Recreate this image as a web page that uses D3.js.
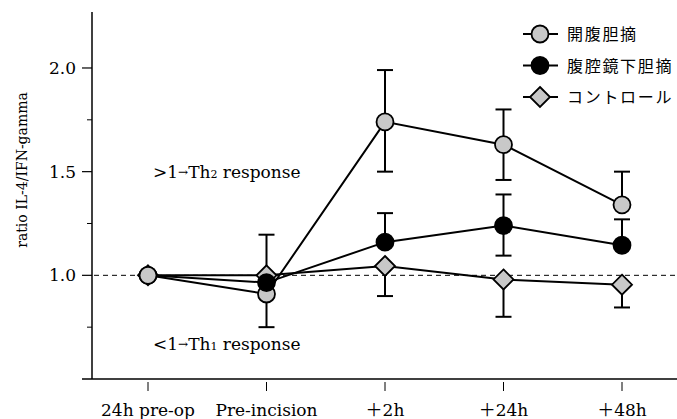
<!DOCTYPE html>
<html>
<head>
<meta charset="utf-8">
<script src="https://cdn.jsdelivr.net/npm/d3@7"></script>
<style>
    body { margin: 0; background: #fff; }
    svg { display: block; }
    text { font-family: "DejaVu Serif", "Noto Sans CJK JP", serif; fill: #000; }
    .jp { font-family: "Noto Sans CJK JP", sans-serif; }
</style>
</head>
<body>
<svg id="chart" width="677" height="419"></svg>
<script>
/* IL-4/IFN-gamma ratio line chart with error bars */

const CATEGORIES = ['24h pre-op', 'Pre-incision', '＋2h', '＋24h', '＋48h'];

const SERIES_NAMES = ['開腹胆摘', '腹腔鏡下胆摘', 'コントロール'];

// 開腹胆摘 (open cholecystectomy)
const OPEN_VALUES = [1.0, 0.91, 1.74, 1.63, 1.34];
const OPEN_ERR = [null, [0.75, 0.91], [1.50, 1.99], [1.46, 1.80], [1.34, 1.50]];

// 腹腔鏡下胆摘 (laparoscopic)
const LAP_VALUES = [1.0, 0.965, 1.16, 1.24, 1.145];
const LAP_ERR = [null, null, [1.16, 1.30], [1.095, 1.39], [1.145, 1.27]];

// コントロール
const CTRL_VALUES = [1.0, 1.0, 1.045, 0.98, 0.955];
const CTRL_ERR = [null, [1.0, 1.196], [0.90, 1.045], [0.80, 0.98], [0.845, 0.955]];

const Y_TICKS = [2.0, 1.5, 1.0];
const Y_MINOR = [1.75, 1.25, 0.75];

const GRAY = '#c8c8c8';

const svg = d3.select('#chart');

const x = d3.scalePoint().domain(CATEGORIES).range([148, 622]);
const y = d3.scaleLinear().domain([0.5, 2.27]).range([379, 12]);

const axisX = 92;
const axisY = y(0.5);

// Axes lines
svg.append('line')
    .attr('x1', axisX).attr('x2', axisX)
    .attr('y1', y(2.27)).attr('y2', axisY)
    .attr('stroke', '#000').attr('stroke-width', 1.5);
svg.append('line')
    .attr('x1', 82).attr('x2', 677)
    .attr('y1', axisY).attr('y2', axisY)
    .attr('stroke', '#000').attr('stroke-width', 1.5);

// Y ticks
svg.selectAll('.ytick').data(Y_TICKS).join('line')
    .attr('x1', axisX - 10).attr('x2', axisX)
    .attr('y1', d => y(d)).attr('y2', d => y(d))
    .attr('stroke', '#000').attr('stroke-width', 1.2);
svg.selectAll('.yminor').data(Y_MINOR).join('line')
    .attr('x1', axisX - 5).attr('x2', axisX)
    .attr('y1', d => y(d)).attr('y2', d => y(d))
    .attr('stroke', '#000').attr('stroke-width', 1);
svg.selectAll('.ylabel').data(Y_TICKS).join('text')
    .attr('x', 76).attr('y', d => y(d) + 6)
    .attr('text-anchor', 'end')
    .attr('font-size', 17)
    .text(d => d.toFixed(1));

// X ticks
svg.selectAll('.xtick').data(CATEGORIES).join('line')
    .attr('x1', d => x(d)).attr('x2', d => x(d))
    .attr('y1', axisY + 3).attr('y2', axisY + 12)
    .attr('stroke', '#000').attr('stroke-width', 1);
svg.selectAll('.xlabel').data(CATEGORIES).join('text')
    .attr('x', d => x(d)).attr('y', 416)
    .attr('text-anchor', 'middle')
    .attr('font-size', 17)
    .text(d => d);

// Y axis title
svg.append('text')
    .attr('transform', `translate(27,170) rotate(-90)`)
    .attr('text-anchor', 'middle')
    .attr('font-size', 14)
    .text('ratio IL-4/IFN-gamma');

// Reference line at 1.0
svg.append('line')
    .attr('x1', axisX + 2).attr('x2', 677)
    .attr('y1', y(1)).attr('y2', y(1))
    .attr('stroke', '#000').attr('stroke-width', 1)
    .attr('stroke-dasharray', '5,4');

// Annotations
function annot(ypos, lead, sub) {
    const t = svg.append('text').attr('x', 153).attr('y', ypos).attr('font-size', 17);
    t.append('tspan').text(lead);
    t.append('tspan').attr('font-size', 12).attr('dy', -2).text('→');
    t.append('tspan').attr('dy', 2).text('Th');
    t.append('tspan').attr('font-size', 11).text(sub);
    t.append('tspan').text(' response');
}
annot(178, '>1', '2');
annot(350, '<1', '1');

const series = [
    { name: SERIES_NAMES[2], values: CTRL_VALUES, err: CTRL_ERR, shape: 'diamond', fill: GRAY },
    { name: SERIES_NAMES[0], values: OPEN_VALUES, err: OPEN_ERR, shape: 'circle', fill: GRAY },
    { name: SERIES_NAMES[1], values: LAP_VALUES, err: LAP_ERR, shape: 'circle', fill: '#000' },
];

const line = d3.line().x((d, i) => x(CATEGORIES[i])).y(d => y(d));

// Lines
series.forEach(s => {
    svg.append('path')
        .attr('d', line(s.values))
        .attr('fill', 'none')
        .attr('stroke', '#000')
        .attr('stroke-width', 2);
});

// Error bars
series.forEach(s => {
    s.err.forEach((e, i) => {
        if (!e) return;
        const cx = x(CATEGORIES[i]);
        const g = svg.append('g').attr('stroke', '#000').attr('stroke-width', 2);
        g.append('line').attr('x1', cx).attr('x2', cx).attr('y1', y(e[0])).attr('y2', y(e[1]));
        if (e[0] < s.values[i] - 0.001)
            g.append('line').attr('x1', cx - 8).attr('x2', cx + 8).attr('y1', y(e[0])).attr('y2', y(e[0]));
        if (e[1] > s.values[i] + 0.001)
            g.append('line').attr('x1', cx - 8).attr('x2', cx + 8).attr('y1', y(e[1])).attr('y2', y(e[1]));
    });
});

function drawMarker(sel, shape, fill) {
    if (shape === 'circle') {
        sel.append('circle').attr('r', 8.5)
            .attr('fill', fill).attr('stroke', '#000').attr('stroke-width', 1.8);
    } else {
        sel.append('path').attr('d', 'M0,-10L10,0L0,10L-10,0Z')
            .attr('fill', fill).attr('stroke', '#000').attr('stroke-width', 1.8);
    }
}

// Markers
const markerGroups = [];
series.forEach(s => {
    s.values.forEach((v, i) => {
        const g = svg.append('g').attr('transform', `translate(${x(CATEGORIES[i])},${y(v)})`);
        drawMarker(g, s.shape, s.fill);
        markerGroups.push({ g, s, i });
    });
});
// shared baseline point shows as the open-surgery marker
markerGroups.filter(m => m.i === 0 && m.s.name === SERIES_NAMES[0]).forEach(m => m.g.raise());

// Legend
const legendItems = [
    { name: SERIES_NAMES[0], shape: 'circle', fill: GRAY },
    { name: SERIES_NAMES[1], shape: 'circle', fill: '#000' },
    { name: SERIES_NAMES[2], shape: 'diamond', fill: GRAY },
];
legendItems.forEach((d, k) => {
    const ly = 34 + k * 31.5;
    const g = svg.append('g').attr('transform', `translate(540,${ly})`);
    g.append('line').attr('x1', -17).attr('x2', 18).attr('y1', 0).attr('y2', 0)
        .attr('stroke', '#000').attr('stroke-width', 2);
    drawMarker(g, d.shape, d.fill);
    svg.append('text').attr('class', 'jp')
        .attr('x', 567).attr('y', ly + 6)
        .attr('font-size', 16)
        .attr('letter-spacing', 1.7)
        .text(d.name);
});
</script>
</body>
</html>
